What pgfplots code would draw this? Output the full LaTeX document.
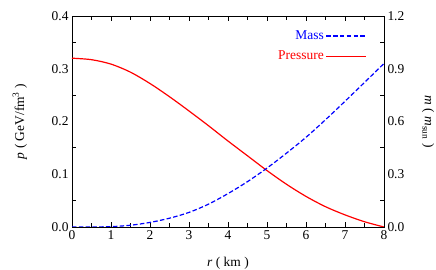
\documentclass[border=0pt]{standalone}
\usepackage{pgfplots}
\pgfplotsset{compat=1.18}
\usepackage{fontspec}
\setmainfont{Liberation Serif}
\begin{document}
\begin{tikzpicture}[font=\fontsize{13.5}{16}\selectfont]
\begin{axis}[
  scale only axis, width=312bp, height=211bp,
  xmin=0, xmax=8, ymin=0, ymax=0.4,
  xtick={0,1,...,8}, ytick={0,0.1,0.2,0.3,0.4},
  minor x tick num=1, minor y tick num=1,
  xtick pos=both, ytick pos=left,
  tick align=inside,
  major tick length=5bp, minor tick length=4bp,
  major y tick style={draw=none},
  axis line style={line width=0.8pt},
  tick style={black, line width=0.8pt},
  /pgf/number format/assume math mode=true,
  yticklabel style={/pgf/number format/.cd, fixed, fixed zerofill, precision=1},
  xlabel={\textit{r} ( km )},
  xlabel style={at={(axis description cs:0.5,-0.17)}, anchor=center},
  ylabel={\textit{p} ( GeV/fm\textsuperscript{3} )},
  ylabel style={at={(axis description cs:-0.167,0.5)}, anchor=center},
  legend style={draw=none, fill=none, at={(axis description cs:0.946,0.94)}, anchor=north east, row sep=6bp, inner sep=0pt},
  legend cell align=right, legend plot pos=right,
  legend image code/.code={\draw[#1] (6bp,0bp) -- (46bp,0bp);},
]
\addlegendimage{blue, line width=1.2pt, dash pattern=on 4.5bp off 2.3bp}
\addlegendentry[text=blue]{Mass}
\addplot[red, line width=1.2pt, smooth] table {
0 0.320
0.5 0.3172
1 0.3088
1.5 0.2935
2 0.2720
2.5 0.2470
3 0.2200
3.5 0.1920
4 0.1630
4.5 0.1350
5 0.1070
5.5 0.0810
6 0.0580
6.5 0.0385
7 0.0230
7.5 0.0100
8 0.000
};
\addlegendentry[text=red]{Pressure}
\end{axis}
\begin{axis}[
  scale only axis, width=312bp, height=211bp,
  xmin=0, xmax=8, ymin=0, ymax=1.2,
  axis x line=none, axis y line*=right,
  ytick={0,0.3,0.6,0.9,1.2}, minor y tick num=1,
  tick align=inside,
  major tick length=5bp, minor tick length=4bp,
  major y tick style={draw=none},
  axis line style={line width=0.8pt, -},
  tick style={black, line width=0.8pt},
  /pgf/number format/assume math mode=true,
  yticklabel style={/pgf/number format/.cd, fixed, fixed zerofill, precision=1},
  after end axis/.code={
    \node[rotate=-90, anchor=center] at (axis description cs:1.141,0.5) {\textit{m} ( \textit{m}\textsubscript{sun} )};
  },
]
\addplot[blue, line width=1.2pt, dash pattern=on 4.5bp off 2.3bp, smooth] table {
0 0
0.5 0.0003
1 0.002
1.5 0.010
2 0.026
2.5 0.050
3 0.083
3.5 0.130
4 0.190
4.5 0.258
5 0.335
5.5 0.420
6 0.510
6.5 0.610
7 0.715
7.5 0.822
8 0.930
};
\end{axis}
\pgfresetboundingbox
\path (-72bp,-43bp) rectangle (364bp,227bp);
\end{tikzpicture}
\end{document}
